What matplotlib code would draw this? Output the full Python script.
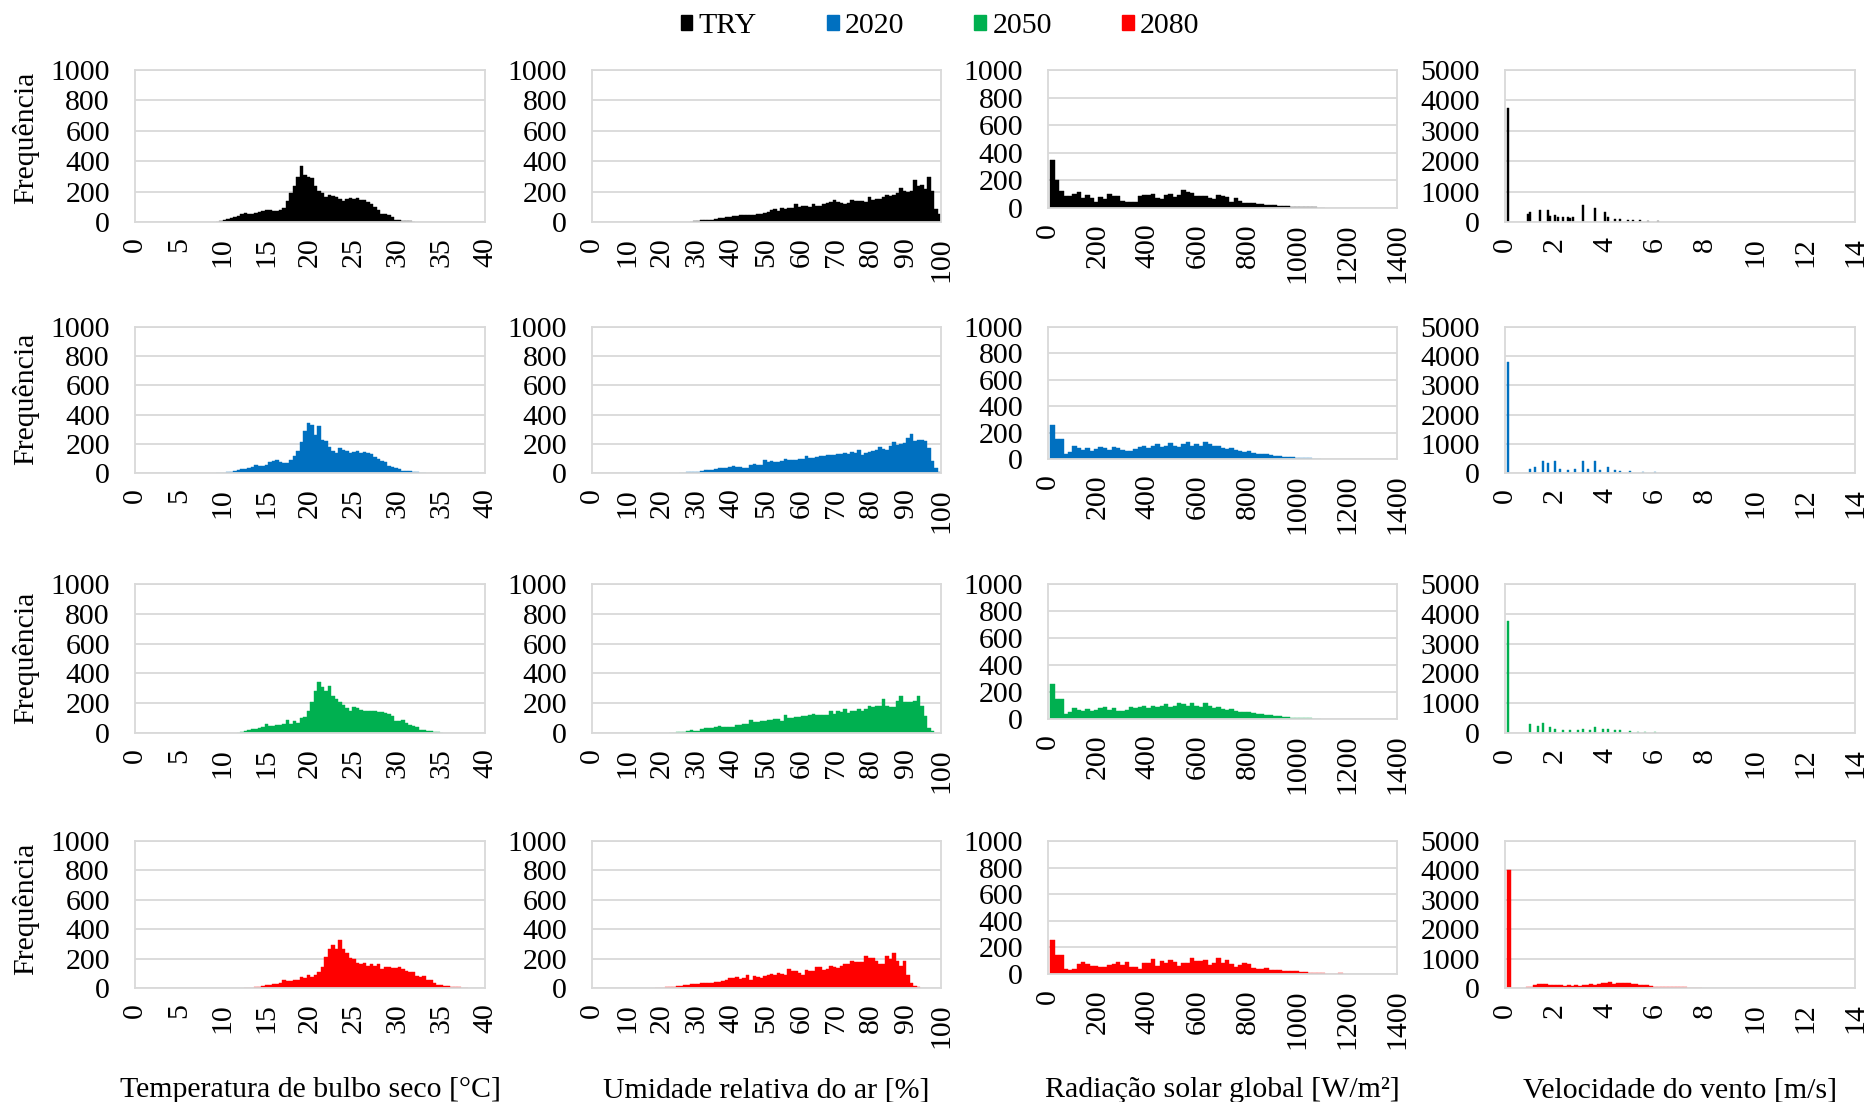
import numpy as np
import matplotlib
matplotlib.use("Agg")
import matplotlib.pyplot as plt
from matplotlib.patches import Patch

plt.rcParams['font.family'] = ['Liberation Serif', 'DejaVu Serif']

scenarios = ['TRY', '2020', '2050', '2080']
colors = ['#000000', '#0070C0', '#00B050', '#FF0000']

# ---------------- Temperature (bin width 0.4 °C) ----------------
temp_bin = 0.4
temp_first = [9.4, 9.4, 11.8, 12.6]
temp_try = [3, 8, 15, 22, 28, 33, 42, 55, 58, 50, 52, 60, 66, 74, 82, 76, 72, 74, 78, 95,
            135, 190, 240, 295, 370, 310, 296, 290, 240, 205, 188, 166, 176, 168, 162, 150,
            138, 150, 158, 152, 155, 148, 145, 130, 118, 100, 80, 55, 50, 44, 30, 15, 11, 8,
            5, 4, 2]
temp_2020 = [1, 2, 3, 5, 9, 13, 20, 24, 28, 33, 43, 52, 48, 46, 58, 75, 80, 86, 73, 70, 68,
             90, 118, 150, 215, 290, 340, 330, 260, 320, 228, 220, 178, 150, 138, 168, 160,
             152, 140, 142, 148, 140, 144, 138, 130, 108, 95, 82, 72, 48, 42, 34, 25, 16, 13,
             11, 8, 7, 3, 2]
temp_2050 = [3, 8, 12, 20, 24, 29, 33, 40, 58, 46, 48, 51, 55, 60, 84, 62, 82, 70, 98, 106,
             145, 205, 280, 345, 312, 285, 318, 250, 230, 205, 188, 170, 148, 176, 165, 155,
             145, 146, 145, 150, 142, 138, 135, 125, 112, 80, 82, 88, 66, 52, 46, 40, 22, 17,
             14, 11, 8, 6, 3]
temp_2080 = [1, 2, 3, 6, 10, 15, 18, 23, 25, 27, 35, 55, 46, 50, 52, 56, 76, 66, 90, 78, 90,
             112, 140, 210, 262, 292, 262, 325, 262, 235, 205, 200, 168, 165, 168, 152, 164,
             148, 160, 130, 140, 145, 134, 138, 141, 130, 118, 112, 107, 85, 73, 80, 52, 55,
             35, 23, 18, 16, 12, 9, 7, 5, 3, 2]

# ---------------- Relative humidity (bin width 1 %) ----------------
hum_bin = 1.0
hum_first = [28, 25, 22, 18]
hum_try = [3, 5, 8, 10, 15, 14, 16, 22, 24, 27, 32, 33, 37, 38, 43, 44, 45, 46, 48, 50, 52,
           62, 68, 77, 88, 75, 90, 88, 92, 94, 116, 99, 104, 103, 100, 120, 108, 102, 120,
           122, 130, 142, 131, 126, 116, 122, 147, 140, 138, 135, 131, 164, 147, 150, 153,
           165, 175, 174, 176, 190, 223, 201, 200, 205, 274, 234, 241, 219, 296, 204, 88, 50]
hum_2020 = [2, 3, 4, 5, 7, 10, 12, 18, 20, 23, 30, 31, 34, 36, 39, 45, 42, 41, 35, 34, 55,
            61, 57, 58, 91, 75, 80, 78, 75, 85, 98, 88, 90, 91, 95, 98, 114, 102, 104, 107,
            114, 118, 125, 120, 124, 130, 128, 136, 132, 143, 140, 159, 125, 135, 143, 150,
            159, 175, 165, 159, 186, 211, 193, 200, 204, 243, 266, 220, 225, 227, 222, 170,
            84, 34, 7]
hum_2050 = [2, 3, 5, 7, 10, 15, 22, 16, 16, 25, 33, 32, 33, 38, 45, 42, 40, 39, 38, 51, 55,
            60, 62, 89, 74, 76, 78, 83, 85, 89, 94, 92, 80, 123, 100, 102, 107, 110, 112, 115,
            118, 127, 122, 118, 123, 120, 150, 127, 145, 140, 163, 134, 145, 150, 163, 150,
            160, 178, 172, 180, 183, 230, 178, 176, 174, 212, 245, 205, 207, 208, 212, 245,
            178, 112, 33, 16]
hum_2080 = [1, 2, 3, 4, 5, 9, 11, 16, 20, 23, 27, 28, 30, 33, 34, 35, 35, 38, 41, 46, 52,
            68, 70, 78, 64, 70, 87, 52, 84, 75, 68, 80, 87, 98, 87, 100, 92, 90, 132, 114, 116,
            100, 91, 125, 114, 118, 141, 140, 123, 130, 148, 142, 137, 150, 160, 160, 187, 176,
            175, 176, 217, 205, 205, 185, 160, 162, 221, 198, 235, 182, 148, 182, 91, 34, 11, 7]

# ---------------- Global solar radiation (bin width 17.5 W/m²) ----------------
rad_bin = 17.5
rad_first = [18.75, 18.75, 18.75, 18.75]
rad_try = [346, 200, 122, 85, 90, 102, 117, 73, 93, 73, 44, 78, 68, 98, 90, 85, 49, 44, 44,
           45, 90, 93, 95, 102, 70, 68, 95, 100, 78, 93, 127, 115, 112, 85, 85, 85, 70, 68,
           93, 90, 78, 44, 73, 49, 38, 37, 35, 30, 29, 22, 20, 20, 15, 15, 14, 10, 9, 6, 5,
           4, 4, 3, 3]
rad_2020 = [260, 150, 150, 40, 50, 100, 80, 70, 85, 60, 75, 90, 80, 70, 90, 80, 70, 60, 60,
            75, 90, 100, 80, 95, 110, 90, 100, 120, 100, 90, 110, 130, 100, 110, 100, 130,
            110, 95, 100, 85, 75, 80, 65, 60, 55, 60, 45, 40, 38, 35, 30, 25, 22, 18, 15, 12,
            10, 8, 6, 4, 3, 2]
rad_2050 = [260, 150, 150, 40, 55, 80, 70, 60, 75, 60, 70, 85, 90, 70, 80, 60, 60, 70, 90,
            80, 90, 100, 80, 100, 90, 100, 110, 90, 100, 120, 110, 100, 115, 100, 90, 115,
            100, 85, 90, 75, 70, 72, 60, 55, 50, 52, 42, 40, 36, 32, 28, 24, 20, 17, 14, 11,
            9, 7, 5, 4, 3, 2]
rad_2080 = [259, 146, 146, 39, 27, 37, 73, 93, 76, 61, 61, 56, 49, 68, 73, 93, 68, 93, 56,
            51, 37, 80, 80, 110, 61, 100, 80, 105, 93, 61, 80, 80, 122, 98, 98, 105, 68, 85,
            122, 80, 105, 73, 56, 68, 80, 76, 44, 39, 39, 44, 32, 32, 27, 24, 20, 20, 20, 12,
            12, 7, 7, 5, 5, 2, 2, 2, 5]

# ---------------- Wind speed (bar positions in m/s, counts) ----------------
wind_width = [0.08, 0.08, 0.08, 0.15]
wind_try_x = [0.1, 0.9, 1.0, 1.4, 1.7, 1.8, 2.0, 2.1, 2.3, 2.5, 2.6, 2.7, 3.1, 3.6, 4.0,
              4.1, 4.4, 4.6, 4.9, 5.1, 5.4, 5.7, 6.1]
wind_try_y = [3750, 250, 330, 380, 380, 200, 240, 180, 180, 150, 140, 150, 550, 460, 330,
              160, 110, 100, 80, 70, 50, 40, 30]
wind_2020_x = [0.1, 1.0, 1.2, 1.5, 1.7, 2.0, 2.2, 2.5, 2.8, 3.1, 3.3, 3.6, 3.8, 4.1, 4.4,
               4.6, 5.0, 5.5, 6.0]
wind_2020_y = [3800, 150, 200, 400, 350, 400, 150, 100, 150, 400, 150, 400, 100, 200, 100,
               80, 80, 50, 30]
wind_2050_x = [0.1, 1.0, 1.3, 1.5, 1.8, 2.0, 2.3, 2.6, 2.9, 3.1, 3.4, 3.6, 3.9, 4.1, 4.4,
               4.6, 5.0, 5.3, 5.6, 6.0]
wind_2050_y = [3750, 300, 250, 350, 200, 150, 100, 100, 100, 150, 100, 200, 150, 150, 100,
               100, 80, 50, 40, 30]
wind_2080_x = [0.15, 0.9, 1.05, 1.2, 1.35, 1.5, 1.65, 1.8, 1.95, 2.1, 2.25, 2.4, 2.55, 2.7,
               2.85, 3.0, 3.15, 3.3, 3.45, 3.6, 3.75, 3.9, 4.05, 4.2, 4.35, 4.5, 4.65, 4.8,
               4.95, 5.1, 5.25, 5.4, 5.55, 5.7, 5.85, 6.0, 6.15, 6.3, 6.45, 6.6, 6.75, 6.9,
               7.05, 7.2, 7.35, 7.5, 7.65, 7.8]
wind_2080_y = [4000, 20, 40, 100, 140, 150, 120, 100, 100, 100, 100, 60, 110, 60, 110, 80,
               110, 110, 130, 110, 150, 180, 170, 200, 150, 170, 180, 170, 180, 120, 130, 90,
               90, 90, 60, 40, 40, 40, 35, 30, 25, 20, 20, 20, 15, 15, 10, 10]

temp_ticks = [0, 5, 10, 15, 20, 25, 30, 35, 40]
hum_ticks = [0, 10, 20, 30, 40, 50, 60, 70, 80, 90, 100]
rad_ticks = [0, 200, 400, 600, 800, 1000, 1200, 1400]
wind_ticks = [0, 2, 4, 6, 8, 10, 12, 14]
freq_ticks = [0, 200, 400, 600, 800, 1000]
wind_freq_ticks = [0, 1000, 2000, 3000, 4000, 5000]

col_titles = ['Temperatura de bulbo seco [°C]', 'Umidade relativa do ar [%]',
              'Radiação solar global [W/m²]', 'Velocidade do vento [m/s]']
ylabel = 'Frequência'

# ---------------- layout (pixels) ----------------
W, H = 1868, 1102
fig = plt.figure(figsize=(W / 100, H / 100), dpi=100)
fig.patch.set_facecolor('white')

cols_px = [(135, 485), (592, 941), (1048, 1397), (1505, 1855)]
rows_px = [(70, 222), (327, 473), (584, 733), (841, 988)]
rad_shrink = 14
ylab_y = [138, 399, 658, 909]

GRID = '#d9d9d9'
FS = 21.5

temp_data = [temp_try, temp_2020, temp_2050, temp_2080]
hum_data = [hum_try, hum_2020, hum_2050, hum_2080]
rad_data = [rad_try, rad_2020, rad_2050, rad_2080]
wind_x = [wind_try_x, wind_2020_x, wind_2050_x, wind_2080_x]
wind_y = [wind_try_y, wind_2020_y, wind_2050_y, wind_2080_y]


def make_ax(c, r, is_rad=False):
    x0, x1 = cols_px[c]
    y0, y1 = rows_px[r]
    if is_rad:
        y1 -= rad_shrink
    ax = fig.add_axes([x0 / W, 1 - y1 / H, (x1 - x0) / W, (y1 - y0) / H])
    for s in ax.spines.values():
        s.set_color(GRID)
        s.set_linewidth(1.3)
    ax.set_axisbelow(True)
    ax.grid(axis='y', color=GRID, linewidth=1.3)
    ax.tick_params(length=0, labelsize=FS)
    ax.tick_params(axis='y', pad=18)
    ax.tick_params(axis='x', pad=11)
    return ax


for r in range(4):
    col = colors[r]
    # temperature
    ax = make_ax(0, r)
    xs = temp_first[r] + temp_bin * np.arange(len(temp_data[r]))
    ax.bar(xs, temp_data[r], width=temp_bin, color=col, linewidth=0.3, edgecolor=col)
    ax.set_xlim(0, 40)
    ax.set_ylim(0, 1000)
    ax.set_xticks(temp_ticks)
    ax.set_xticklabels([str(t) for t in temp_ticks], rotation=90)
    ax.set_yticks(freq_ticks)

    # humidity
    ax = make_ax(1, r)
    xs = hum_first[r] + hum_bin * (np.arange(len(hum_data[r])) + 0.5)
    ax.bar(xs, hum_data[r], width=hum_bin, color=col, linewidth=0.3, edgecolor=col)
    ax.set_xlim(0, 100)
    ax.set_ylim(0, 1000)
    ax.set_xticks(hum_ticks)
    ax.set_xticklabels([str(t) for t in hum_ticks], rotation=90)
    ax.set_yticks(freq_ticks)

    # radiation
    ax = make_ax(2, r, is_rad=True)
    xs = rad_first[r] + rad_bin * np.arange(len(rad_data[r]))
    ax.bar(xs, rad_data[r], width=rad_bin, color=col, linewidth=0.3, edgecolor=col)
    ax.set_xlim(0, 1400)
    ax.set_ylim(0, 1000)
    ax.set_xticks(rad_ticks)
    ax.set_xticklabels([str(t) for t in rad_ticks], rotation=90)
    ax.set_yticks(freq_ticks)

    # wind
    ax = make_ax(3, r)
    ax.bar(wind_x[r], wind_y[r], width=wind_width[r], color=col, linewidth=0.3, edgecolor=col)
    ax.set_xlim(0, 14)
    ax.set_ylim(0, 5000)
    ax.set_xticks(wind_ticks)
    ax.set_xticklabels([str(t) for t in wind_ticks], rotation=90)
    ax.set_yticks(wind_freq_ticks)

    fig.text(26 / W, 1 - ylab_y[r] / H, ylabel, rotation=90, ha='center', va='center',
             fontsize=FS)

for c in range(4):
    x0, x1 = cols_px[c]
    fig.text((x0 + x1) / 2 / W, 1 - 1090 / H, col_titles[c], ha='center', va='center',
             fontsize=FS)

handles = [Patch(facecolor=colors[i], edgecolor=colors[i], label=scenarios[i]) for i in range(4)]
fig.legend(handles=handles, loc='center', bbox_to_anchor=(940 / W, 1 - 26 / H), ncol=4,
           frameon=False, fontsize=FS, handlelength=0.4, handleheight=0.4,
           handletextpad=0.2, columnspacing=2.35, borderaxespad=0)

fig.savefig('out.png', dpi=100, facecolor='white')
